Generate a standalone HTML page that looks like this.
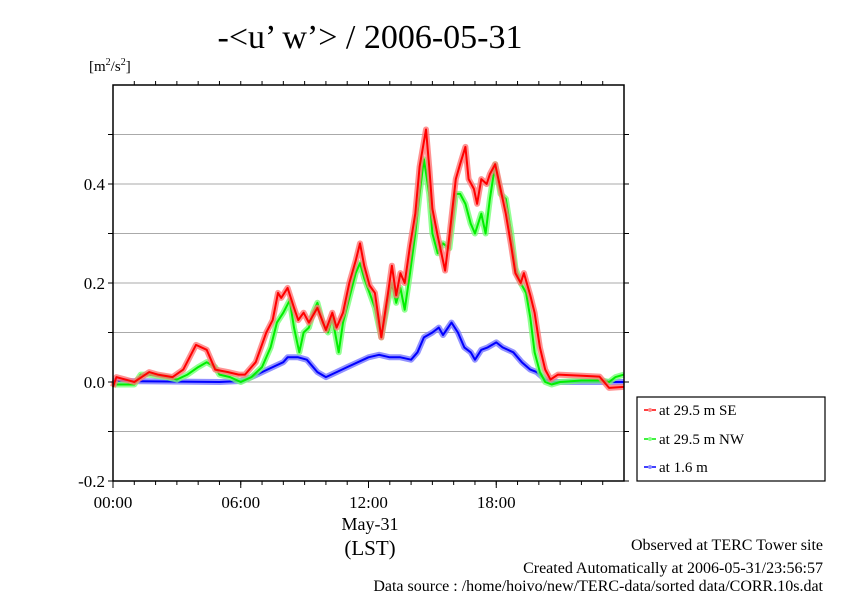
<!DOCTYPE html>
<html><head><meta charset="utf-8"><style>
body{margin:0;background:#fff;}
svg{display:block;font-family:"Liberation Serif",serif;}
</style></head><body>
<svg id="chart" width="842" height="595" viewBox="0 0 842 595">
<text x="370" y="48" font-size="34" text-anchor="middle">-&lt;u’ w’&gt; / 2006-05-31</text>
<text x="89" y="71" font-size="15">[m<tspan font-size="10" dy="-6">2</tspan><tspan dy="6">/s</tspan><tspan font-size="10" dy="-6">2</tspan><tspan dy="6">]</tspan></text>
<g id="grid"></g>
<g id="series"></g>
<rect x="113" y="85" width="511" height="396" fill="none" stroke="#000" stroke-width="1.5"/>
<g id="axes"></g>
<text x="370" y="530" font-size="18" text-anchor="middle">May-31</text>
<text x="370" y="555" font-size="21" text-anchor="middle">(LST)</text>
<g>
<rect x="637" y="397" width="188" height="84" fill="#fff" stroke="#000" stroke-width="1.2"/>
<g><line x1="644" y1="410" x2="656" y2="410" stroke="#f00" stroke-width="1.5"/><circle cx="650" cy="410" r="2" fill="#f88"/><text x="659" y="415" font-size="15">at 29.5 m SE</text></g>
<g><line x1="644" y1="439" x2="656" y2="439" stroke="#0e0" stroke-width="1.5"/><circle cx="650" cy="439" r="2" fill="#8f8"/><text x="659" y="444" font-size="15">at 29.5 m NW</text></g>
<g><line x1="644" y1="467" x2="656" y2="467" stroke="#00f" stroke-width="1.5"/><circle cx="650" cy="467" r="2" fill="#88f"/><text x="659" y="472" font-size="15">at 1.6 m</text></g>
</g>
<text x="823" y="550" font-size="16" text-anchor="end">Observed at TERC Tower site</text>
<text x="823" y="573" font-size="16" text-anchor="end">Created Automatically at 2006-05-31/23:56:57</text>
<text x="823" y="596" font-size="16" text-anchor="end" dy="-5">Data source : /home/hoivo/new/TERC-data/sorted  data/CORR.10s.dat</text>
</svg>
<script>
const yTicks=[-0.2,-0.1,0,0.1,0.2,0.3,0.4,0.5];
const yTickLabels=["-0.2","","0.0","","0.2","","0.4",""];
const xTicks=[0,6,12,18];
const xTickLabels=["00:00","06:00","12:00","18:00"];
const seHours=[0,0.16,1.0,1.7,2.1,2.8,3.3,3.9,4.4,4.8,5.4,5.9,6.2,6.7,7.2,7.5,7.75,7.9,8.2,8.5,8.7,8.95,9.2,9.6,10.0,10.3,10.5,10.8,11.1,11.4,11.6,11.8,12.05,12.3,12.6,12.9,13.1,13.3,13.5,13.7,13.95,14.2,14.4,14.7,14.85,15.0,15.25,15.6,15.8,16.1,16.3,16.55,16.7,16.95,17.1,17.3,17.55,17.7,17.95,18.2,18.45,18.7,18.9,19.15,19.3,19.6,19.8,20.05,20.3,20.55,20.9,21.9,22.85,23.3,24];
const seValues=[-0.01,0.01,0.0,0.02,0.015,0.01,0.025,0.075,0.065,0.025,0.02,0.015,0.015,0.04,0.1,0.125,0.18,0.17,0.19,0.15,0.125,0.14,0.12,0.15,0.105,0.14,0.11,0.14,0.2,0.245,0.28,0.235,0.195,0.18,0.09,0.175,0.235,0.175,0.22,0.2,0.275,0.34,0.435,0.51,0.435,0.35,0.295,0.225,0.295,0.41,0.44,0.475,0.41,0.39,0.36,0.41,0.4,0.42,0.44,0.39,0.34,0.275,0.22,0.2,0.22,0.175,0.14,0.07,0.025,0.005,0.015,0.013,0.011,-0.012,-0.01];
const nwHours=[0,1.0,1.3,1.7,2.5,3.0,3.5,4.0,4.4,4.8,5.0,5.5,6.0,6.5,7.0,7.4,7.7,8.0,8.3,8.5,8.75,8.95,9.2,9.4,9.6,9.85,10.1,10.3,10.6,10.8,11.1,11.4,11.6,11.8,12.05,12.3,12.6,12.9,13.1,13.3,13.5,13.7,13.95,14.2,14.4,14.6,14.85,15.0,15.25,15.5,15.8,16.1,16.3,16.55,16.8,17.0,17.3,17.5,17.7,17.95,18.2,18.45,18.7,18.9,19.15,19.4,19.6,19.8,20.05,20.3,20.6,21.0,22.0,23.0,23.3,23.6,24];
const nwValues=[-0.005,-0.005,0.015,0.015,0.01,0.005,0.015,0.03,0.04,0.03,0.015,0.01,0.0,0.01,0.03,0.07,0.12,0.14,0.165,0.11,0.06,0.1,0.11,0.14,0.16,0.12,0.1,0.13,0.06,0.12,0.17,0.22,0.24,0.21,0.18,0.15,0.09,0.16,0.2,0.16,0.19,0.146,0.22,0.3,0.38,0.45,0.38,0.3,0.26,0.28,0.27,0.38,0.38,0.36,0.32,0.3,0.34,0.3,0.37,0.44,0.38,0.37,0.3,0.23,0.2,0.18,0.13,0.06,0.02,0.0,-0.005,0.0,0.003,0.003,0.0,0.01,0.015];
const lowHours=[0,5,6.0,6.5,7.0,7.5,8.0,8.2,8.7,9.1,9.6,10.0,10.5,11,11.5,12,12.5,13,13.5,14,14.3,14.6,15.0,15.3,15.5,15.9,16.2,16.5,16.8,17.0,17.3,17.6,18.0,18.3,18.8,19.2,19.6,19.9,20.3,20.6,24];
const lowValues=[0.002,0.0,0.002,0.01,0.02,0.03,0.04,0.05,0.05,0.045,0.02,0.01,0.02,0.03,0.04,0.05,0.055,0.05,0.05,0.045,0.06,0.09,0.1,0.11,0.095,0.12,0.1,0.07,0.06,0.045,0.065,0.07,0.08,0.07,0.06,0.04,0.025,0.02,0.005,0.0,0.0];

const NS="http://www.w3.org/2000/svg";
const X0=113,X1=624,Y0=382,PY=495;
function xs(h){return X0+(X1-X0)*h/24;}
function ys(v){return Y0-v*PY;}
function mk(tag,attrs,parent){const e=document.createElementNS(NS,tag);for(const k in attrs)e.setAttribute(k,attrs[k]);parent.appendChild(e);return e;}
const grid=document.getElementById('grid'),axes=document.getElementById('axes'),ser=document.getElementById('series');
yTicks.forEach((t,i)=>{
  const y=ys(t);
  if(t>-0.2){const g=mk('line',{x1:X0,x2:X1,y1:y,y2:y,stroke:'#aaa','stroke-width':1},grid);
  
  }
  const tk=mk('line',{x1:X0-5,x2:X0,y1:y,y2:y,stroke:'#000'},axes);
  
  
  const tr=mk('line',{x1:X1,x2:X1+5,y1:y,y2:y,stroke:'#000'},axes);
  
  
  if(yTickLabels[i]){const tx=mk('text',{x:X0-8,y:y+6,'font-size':17,'text-anchor':'end'},axes);tx.textContent=yTickLabels[i];
  
  }
});
for(let h=1;h<24;h++){const x=xs(h);const t=mk('line',{x1:x,x2:x,y1:81,y2:85,stroke:'#000'},axes);
  
  
  const b=mk('line',{x1:x,x2:x,y1:481,y2:485,stroke:'#000'},axes);
  
  }
xTicks.forEach((t,i)=>{const x=xs(t);
  const tk=mk('line',{x1:x,x2:x,y1:481,y2:488,stroke:'#000'},axes);
  
  
  const tx=mk('text',{x:x,y:508,'font-size':17,'text-anchor':'middle'},axes);tx.textContent=xTickLabels[i];
  
  });
function draw(hs,vs,col,light,name){
  const d=hs.map((h,i)=>(i?'L':'M')+xs(h).toFixed(1)+','+ys(vs[i]).toFixed(1)).join('');
  const a=mk('path',{d:d,fill:'none',stroke:light,'stroke-width':6,'stroke-linejoin':'round',opacity:0.8},ser);
  
  
  const b=mk('path',{d:d,fill:'none',stroke:col,'stroke-width':2,'stroke-linejoin':'round'},ser);
  
  
}
draw(lowHours,lowValues,'#00f','#77f','series-1-6m');
draw(nwHours,nwValues,'#0e0','#7f7','series-nw');
draw(seHours,seValues,'#f00','#f77','series-se');
</script>
</body></html>
